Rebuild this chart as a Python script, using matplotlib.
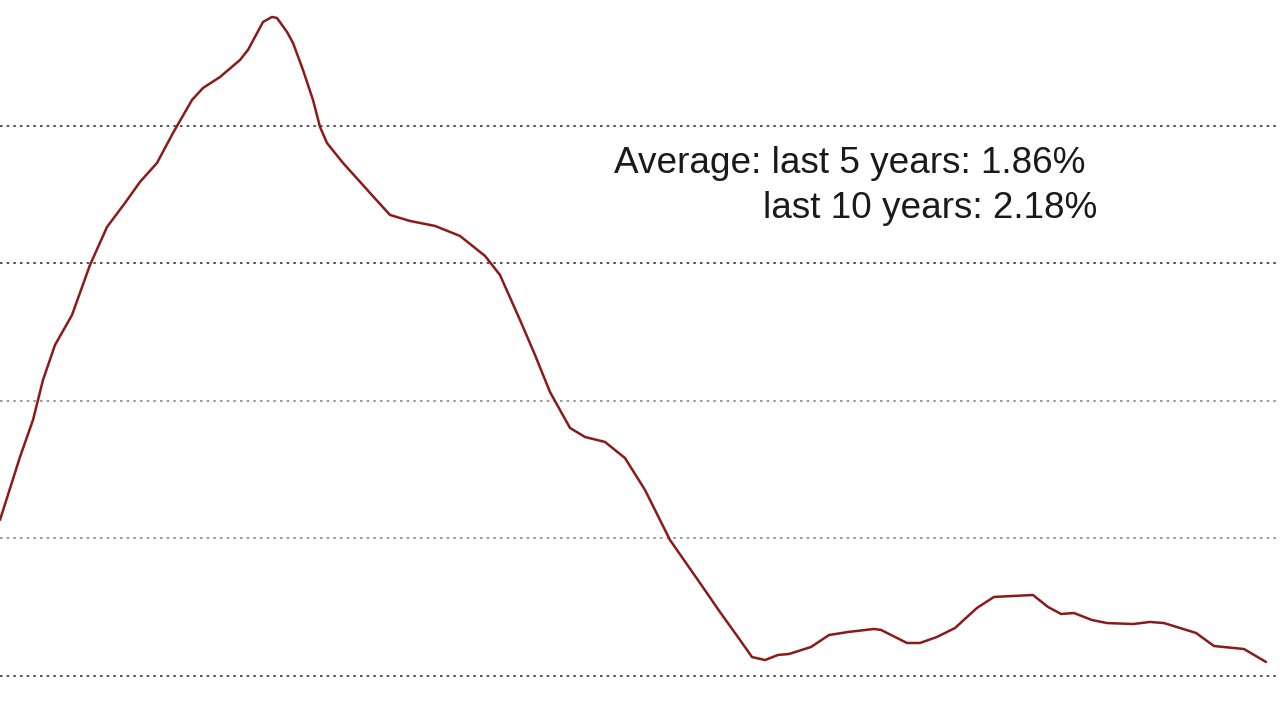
import matplotlib
matplotlib.use("Agg")
import matplotlib.pyplot as plt

plt.rcParams['font.family'] = ['Liberation Sans', 'DejaVu Sans']

# Time positions (arbitrary units along the x axis) and series values
t = [0, 20, 33, 43, 55, 72, 90, 107, 125, 140, 157, 173, 192, 203, 220, 240, 248,
     263, 272, 277, 287, 293, 303, 313, 320, 327, 343, 370, 390, 410, 435, 460,
     485, 500, 520, 535, 550, 570, 585, 605, 625, 645, 670, 700, 720, 740, 752,
     765, 778, 789, 811, 829, 848, 874, 881, 907, 920, 937, 955, 977, 994, 1033,
     1048, 1061, 1074, 1092, 1107, 1133, 1150, 1164, 1196, 1214, 1244, 1266]
values = [1.135, 1.593, 1.862, 2.153, 2.407, 2.625, 2.989, 3.265, 3.44, 3.593,
          3.731, 3.949, 4.189, 4.276, 4.356, 4.48, 4.553, 4.756, 4.793, 4.785,
          4.684, 4.604, 4.407, 4.189, 3.993, 3.876, 3.731, 3.513, 3.353, 3.309,
          3.273, 3.2, 3.055, 2.916, 2.589, 2.335, 2.065, 1.804, 1.738, 1.702,
          1.585, 1.353, 0.989, 0.676, 0.465, 0.262, 0.138, 0.116, 0.153, 0.16,
          0.211, 0.298, 0.32, 0.342, 0.335, 0.24, 0.24, 0.284, 0.349, 0.495,
          0.575, 0.589, 0.502, 0.451, 0.458, 0.407, 0.385, 0.378, 0.393, 0.385,
          0.313, 0.218, 0.196, 0.102]
grid_levels = [0, 1, 2, 3, 4]
grid_colors = ['#333333', '#888888', '#888888', '#333333', '#333333']
line1 = "Average: last 5 years: 1.86%"
line2 = "last 10 years: 2.18%"

fig = plt.figure(figsize=(12.8, 7.2), dpi=100)
ax = fig.add_axes([0, 0, 1, 1])
ax.set_xlim(0, 1280)
ax.set_ylim(-0.32, 4.916)
ax.axis('off')

for lvl, c in zip(grid_levels, grid_colors):
    ax.axhline(lvl, color=c, lw=1.2, linestyle=(0, (1.5, 2.5)), zorder=1)

ax.plot(t, values, color='#8b1a1a', lw=1.8, zorder=3,
        solid_joinstyle='round', solid_capstyle='round')

ax.text(0.4797, 0.7597, line1, transform=ax.transAxes, fontsize=26.6,
        ha='left', va='baseline', color='#1a1a1a')
ax.text(0.596, 0.6972, line2, transform=ax.transAxes, fontsize=26.6,
        ha='left', va='baseline', color='#1a1a1a')

fig.savefig('out.png', dpi=100, facecolor='white')
